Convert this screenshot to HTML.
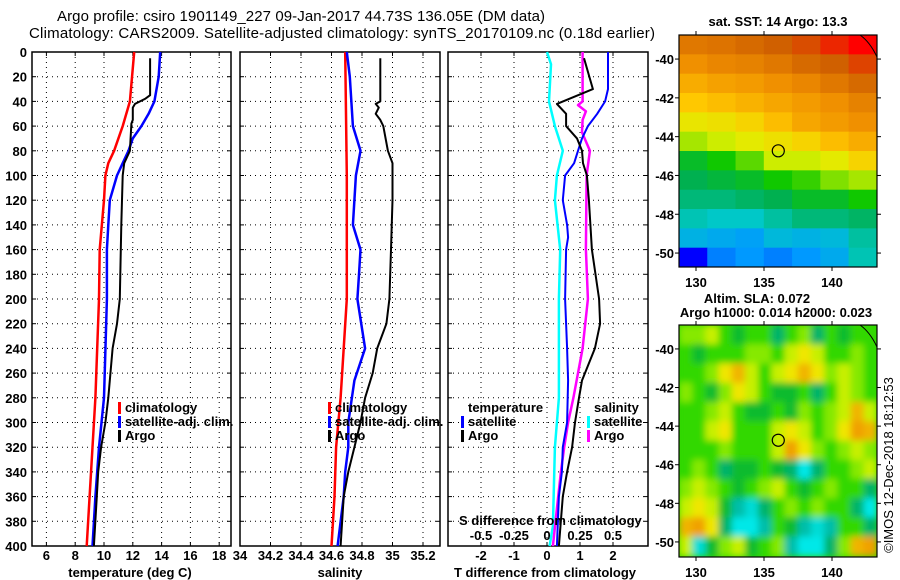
<!DOCTYPE html>
<html><head><meta charset="utf-8"><style>
html,body{margin:0;padding:0;background:#fff;}
svg{display:block;font-family:"Liberation Sans",sans-serif;}
.tk{font-size:13px;font-weight:bold;fill:#000;}
.ttl{font-size:15px;fill:#000;}
</style></head><body>
<svg id="chart" width="900" height="580" viewBox="0 0 900 580">
<defs>
<clipPath id="clipSST"><rect x="679" y="35" width="198" height="232"/></clipPath>
<clipPath id="clipSLA"><rect x="679" y="325" width="198" height="232"/></clipPath>
<filter id="blur" x="-10%" y="-10%" width="120%" height="120%"><feGaussianBlur stdDeviation="3.5"/></filter>
</defs>
<text class="ttl" x="57" y="21" textLength="488">Argo profile: csiro 1901149_227 09-Jan-2017 44.73S 136.05E (DM data)</text>
<text class="ttl" x="29" y="38" textLength="626">Climatology: CARS2009. Satellite-adjusted climatology: synTS_20170109.nc (0.18d earlier)</text>
<g id="root"></g>
</svg>
<script>
// ---- data ----
const tClimDepth=[0,40,60,80,90,100,120,160,200,280,320,360,400];
const tClim=[12.1,11.8,11.3,10.7,10.3,10.1,10.0,9.7,9.65,9.4,9.2,9.0,8.8];
const tSatDepth=[0,20,40,50,60,70,80,90,100,120,140,160,200,280,320,360,400];
const tSat=[13.9,13.8,13.5,13.1,12.6,12.0,11.7,11.3,10.9,10.4,10.3,10.2,10.2,10.0,9.65,9.4,9.2];
const tArgoDepth=[5,35,38,42,45,55,58,80,90,100,140,200,220,240,266,280,300,320,340,360,400];
const tArgo=[13.2,13.2,12.85,12.15,12.0,12.0,11.9,11.8,11.4,11.3,11.2,11.1,10.9,10.6,10.4,10.3,10.1,9.8,9.6,9.5,9.3];
const sClimDepth=[0,100,200,280,320,360,400];
const sClim=[34.69,34.70,34.70,34.66,34.63,34.62,34.60];
const sSatDepth=[0,20,60,80,100,140,160,180,200,240,266,300,320,340,360,400];
const sSat=[34.70,34.72,34.74,34.79,34.76,34.74,34.79,34.78,34.77,34.82,34.75,34.71,34.71,34.69,34.68,34.64];
const sArgoDepth=[5,40,42,45,50,55,60,80,90,120,160,200,220,240,260,280,300,320,340,360,400];
const sArgo=[34.92,34.92,34.89,34.91,34.89,34.92,34.94,34.97,35.0,35.0,34.99,34.98,34.96,34.9,34.87,34.82,34.79,34.75,34.71,34.68,34.66];
const dTSatDepth=[0,30,40,50,60,70,80,90,100,120,140,150,160,200,240,266,300,320,340,360,400];
const dTSat=[1.85,1.85,1.76,1.52,1.24,1.06,0.94,0.82,0.55,0.48,0.61,0.64,0.58,0.55,0.61,0.64,0.61,0.48,0.45,0.36,0.30];
const dTArgoDepth=[5,30,42,50,60,70,80,90,100,120,160,200,220,240,266,280,300,320,340,360,400];
const dTArgo=[1.12,1.39,0.30,0.58,0.58,0.91,1.06,1.09,1.21,1.27,1.36,1.58,1.61,1.45,1.06,0.97,0.85,0.76,0.61,0.48,0.36];
const dSSatDepth=[0,10,40,60,80,100,120,160,200,280,320,384,400];
const dSSat=[0,0.03,0.015,0.06,0.12,0.075,0.06,0.1,0.09,0.09,0.06,0.045,0.02];
const dSArgoDepth=[0,40,43,48,55,65,80,100,160,200,240,260,280,300,320,340,360,400];
const dSArgo=[0.27,0.27,0.235,0.295,0.27,0.265,0.325,0.3,0.295,0.31,0.27,0.235,0.2,0.16,0.13,0.105,0.085,0.045];
const depthTicks=[0,20,40,60,80,100,120,140,160,180,200,220,240,260,280,300,320,340,360,380,400];
const tTicks=[6,8,10,12,14,16,18];
const sTicks=[34,34.2,34.4,34.6,34.8,35,35.2];
const sTickLabels=["34","34.2","34.4","34.6","34.8","35","35.2"];
const dTTicks=[-2,-1,0,1,2];
const dSTicks=[-0.5,-0.25,0,0.25,0.5];
const dSTickLabels=["-0.5","-0.25","0","0.25","0.5"];
const lonTicks=[130,135,140];
const latTicks=[-40,-42,-44,-46,-48,-50];
const sstGrid=[
[15.5,15.6,15.8,16.0,16.2,16.6,17.2],
[15.0,15.2,15.3,15.5,15.8,16.0,16.3],
[14.5,14.7,14.8,15.0,15.2,15.5,15.8],
[14.0,14.2,14.4,14.6,14.8,15.0,15.3],
[13.5,13.6,13.8,14.2,14.6,14.8,15.0],
[13.0,13.2,13.4,13.6,13.8,14.2,14.5],
[12.0,12.2,12.6,13.2,13.2,13.4,13.8],
[11.8,11.9,12.0,12.2,12.4,12.8,13.0],
[11.6,11.6,11.7,11.8,12.0,12.0,12.2],
[11.3,11.2,11.2,11.4,11.6,11.6,11.7],
[10.9,10.8,10.7,11.0,10.9,11.0,11.4],
[10.0,10.5,10.6,10.5,10.6,10.8,11.3]];
const slaGrid=[
[0.05,0.05,0.1,0,-0.05,0,0,-0.1,0,0.05,-0.1,0,-0.05,0,0],
[0,-0.05,0,0,0,0.05,0.05,0,0.1,0.15,0.1,0,0,0.05,0],
[0,0,0.05,0.15,0.2,0.1,0,0.1,0.15,0.2,0.15,0.05,0.1,0.05,0],
[0.05,0,-0.05,0.05,0.15,0.1,0,-0.05,-0.05,0,-0.1,0,0.1,0.05,0],
[0,0,0.05,0.1,0,-0.05,-0.05,0,-0.05,0.05,0,0.05,0.1,0.2,0.1],
[0,0,0.1,0.15,0,0,0,0.1,0.15,0.1,0,0.05,0.15,0.3,0.2],
[0,0,0,0.05,0,0,0,0.1,0.25,0.15,0.05,0,0.05,0.1,0.05],
[0,0.05,0,-0.1,-0.05,-0.05,0,-0.05,-0.1,-0.25,-0.1,0,0,0.05,0.1],
[0.05,0.1,0.05,0,-0.05,0,0.05,0.1,0,-0.05,0,0.05,0,0,-0.1],
[0.1,0.15,0.1,-0.05,-0.15,-0.2,-0.1,0,0.05,0,0.05,0,0,-0.1,-0.25],
[0.2,0.3,0.15,-0.1,-0.25,-0.3,-0.15,0,-0.05,-0.15,-0.2,-0.15,0,0,-0.1],
[0.1,-0.2,-0.05,0.05,0.1,-0.05,0,0.05,-0.15,-0.3,-0.3,-0.1,0.05,0.2,0.25]];
const argoLon=136.05, argoLat=-44.73;

// ---- scales ----
const NS="http://www.w3.org/2000/svg";
const root=document.getElementById('root');
const yD=d=>52+d*1.235;
const xT=t=>32+(t-5)*14.4;
const xS=s=>240+(s-34)*152.5;
const xDT=t=>547+t*33;
const xDS=s=>547+s*132;
const mapX=lon=>679+(lon-128.75)*13.6;
const mapY1=lat=>35+(-38.76-lat)*19.4;
const mapY2=lat=>325+(-38.76-lat)*19.3;
function mk(tag,attrs,parent){const e=document.createElementNS(NS,tag);for(const k in attrs)e.setAttribute(k,attrs[k]);(parent||root).appendChild(e);return e;}
function txt(x,y,s,anchor,cls,parent){const e=mk('text',{x:x,y:y,'text-anchor':anchor||'start','class':cls||'tk'},parent);e.textContent=s;return e;}

function panel(x0,x1,name,xticks,xf){
  const g=mk('g',{});
  
  
  depthTicks.forEach(d=>{if(d>0&&d<400){mk('line',{x1:x0,x2:x1,y1:yD(d),y2:yD(d),stroke:'#000','stroke-width':1,'stroke-dasharray':'1,4'},g);}
    mk('line',{x1:x0,x2:x0+4,y1:yD(d),y2:yD(d),stroke:'#000'},g);mk('line',{x1:x1-4,x2:x1,y1:yD(d),y2:yD(d),stroke:'#000'},g);});
  xticks.forEach(v=>{const x=xf(v);if(x>x0+1&&x<x1-1)mk('line',{x1:x,x2:x,y1:52,y2:546,stroke:'#000','stroke-dasharray':'1,4'},g);
    mk('line',{x1:x,x2:x,y1:52,y2:56,stroke:'#000'},g);mk('line',{x1:x,x2:x,y1:542,y2:546,stroke:'#000'},g);});
  mk('rect',{x:x0,y:52,width:x1-x0,height:494,fill:'none',stroke:'#000','stroke-width':1.5},g);
  return g;
}
function line(g,depths,vals,xf,color,w,name){
  const pts=depths.map((d,i)=>xf(vals[i]).toFixed(1)+','+yD(d).toFixed(1)).join(' ');
  const p=mk('polyline',{points:pts,fill:'none',stroke:color,'stroke-width':w,'stroke-linejoin':'round'},g);
  
  
}
function legend(g,x,y,color,label,name){
  mk('rect',{x:x,y:y-10,width:3,height:12,fill:color},g);
  const t=txt(x+7,y,label,'start','tk',g);
  
  
}

// panel 1
const p1=panel(32,231,'temperature-panel',tTicks,xT);
depthTicks.forEach(d=>{const t=txt(27,yD(d)+5,String(d),'end','tk',p1);});
tTicks.forEach(v=>{const t=txt(xT(v),560,String(v),'middle','tk',p1);});
line(p1,tClimDepth,tClim,xT,'#ff0000',2.5,'temp-climatology-line');
line(p1,tSatDepth,tSat,xT,'#0000ff',2.5,'temp-satellite-line');
line(p1,tArgoDepth,tArgo,xT,'#000',2,'temp-argo-line');
legend(p1,118,412,'#ff0000','climatology','legend-climatology');
legend(p1,118,426,'#0000ff','satellite-adj. clim.','legend-satellite');
legend(p1,118,440,'#000','Argo','legend-argo');
{const t=txt(130,577,'temperature (deg C)','middle','tk',p1);}

// panel 2
const p2=panel(240,440,'salinity-panel',sTicks,xS);
sTicks.forEach((v,i)=>{const t=txt(xS(v),560,sTickLabels[i],'middle','tk',p2);});
line(p2,sClimDepth,sClim,xS,'#ff0000',2.5,'sal-climatology-line');
line(p2,sSatDepth,sSat,xS,'#0000ff',2.5,'sal-satellite-line');
line(p2,sArgoDepth,sArgo,xS,'#000',2,'sal-argo-line');
legend(p2,328,412,'#ff0000','climatology','legend-climatology-sal');
legend(p2,328,426,'#0000ff','satellite-adj. clim.','legend-satellite-sal');
legend(p2,328,440,'#000','Argo','legend-argo-sal');
{const t=txt(340,577,'salinity','middle','tk',p2);}

// panel 3
const p3=panel(448,648,'difference-panel',dTTicks,xDT);
dTTicks.forEach(v=>{const t=txt(xDT(v),560,String(v),'middle','tk',p3);});
dSTicks.forEach((v,i)=>{const t=txt(xDS(v),540,dSTickLabels[i],'middle','tk',p3);});
line(p3,dSSatDepth,dSSat,xDS,'#00ffff',2.5,'s-diff-satellite-line');
line(p3,dSArgoDepth,dSArgo,xDS,'#ff00ff',2.5,'s-diff-argo-line');
line(p3,dTSatDepth,dTSat,xDT,'#0000ff',2,'t-diff-satellite-line');
line(p3,dTArgoDepth,dTArgo,xDT,'#000',2,'t-diff-argo-line');
{const t=txt(468,412,'temperature','start','tk',p3);}
legend(p3,461,426,'#0000ff','satellite','legend-t-satellite');
legend(p3,461,440,'#000','Argo','legend-t-argo');
{const t=txt(594,412,'salinity','start','tk',p3);}
legend(p3,587,426,'#00ffff','satellite','legend-s-satellite');
legend(p3,587,440,'#ff00ff','Argo','legend-s-argo');
{const t=txt(459,525,'S difference from climatology','start','tk',p3);}
{const t=txt(545,577,'T difference from climatology','middle','tk',p3);}

// colormaps
function hex(c){return [parseInt(c.substr(1,2),16),parseInt(c.substr(3,2),16),parseInt(c.substr(5,2),16)];}
function cmap(stops,v){
  if(v<=stops[0][0])return stops[0][1];
  for(let i=1;i<stops.length;i++){if(v<=stops[i][0]){const a=hex(stops[i-1][1]),b=hex(stops[i][1]);const f=(v-stops[i-1][0])/(stops[i][0]-stops[i-1][0]);return 'rgb('+a.map((c,k)=>Math.round(c+(b[k]-c)*f)).join(',')+')';}}
  return stops[stops.length-1][1];
}
const sstStops=[[10,'#0000ff'],[10.6,'#0099ff'],[11.2,'#00c8c8'],[11.8,'#00b050'],[12.2,'#10c800'],[12.8,'#80e000'],[13.3,'#e0f000'],[14,'#ffc800'],[15,'#f09000'],[16,'#d06000'],[17,'#ff0000']];
const slaStops=[[-0.22,'#00e8e8'],[-0.14,'#00b8a0'],[-0.07,'#00b040'],[0,'#30d800'],[0.07,'#a8f000'],[0.14,'#f0f000'],[0.22,'#f0a000']];

// SST map
const m1=mk('g',{'clip-path':'url(#clipSST)'});


const lonSpan=143.3-128.75, latSpan=50.72-38.76;
sstGrid.forEach((row,r)=>row.forEach((v,c)=>{
  const lo=128.75+c*lonSpan/row.length, la=-38.76-r*latSpan/sstGrid.length;
  const x=mapX(lo),y=mapY1(la),w=mapX(lo+lonSpan/row.length)-x+0.5,h=mapY1(la-latSpan/sstGrid.length)-y+0.5;
  const cell=mk('rect',{x:x,y:y,width:w,height:h,fill:cmap(sstStops,v)},m1);
  
  
}));
mk('path',{d:'M860,35 Q870,42 877,57',fill:'none',stroke:'#000','stroke-width':1},m1);
// SLA map
const m2=mk('g',{'clip-path':'url(#clipSLA)'});


mk('rect',{x:679,y:325,width:198,height:232,fill:cmap(slaStops,0)},m2);
const m2b=mk('g',{filter:'url(#blur)'},m2);
slaGrid.forEach((row,r)=>row.forEach((v,c)=>{
  const lo=128.75+c*lonSpan/row.length, la=-38.76-r*latSpan/slaGrid.length;
  const x=mapX(lo),y=mapY2(la),w=mapX(lo+lonSpan/row.length)-x+0.5,h=mapY2(la-latSpan/slaGrid.length)-y+0.5;
  const cell=mk('rect',{x:x,y:y,width:w,height:h,fill:cmap(slaStops,v)},m2b);
  
  
}));
mk('path',{d:'M860,325 Q870,332 877,347',fill:'none',stroke:'#000','stroke-width':1},m2);

[[35,mapY1,'sst'],[325,mapY2,'sla']].forEach(([top,my,nm])=>{
  const g=mk('g',{});
  
  
  mk('rect',{x:679,y:top,width:198,height:232,fill:'none',stroke:'#000','stroke-width':1.2},g);
  lonTicks.forEach(v=>{const x=mapX(v);mk('line',{x1:x,x2:x,y1:top-4,y2:top,stroke:'#000'},g);mk('line',{x1:x,x2:x,y1:top+232,y2:top+236,stroke:'#000'},g);
    const t=txt(x,top+252,String(v),'middle','tk',g);});
  latTicks.forEach(v=>{const y=my(v);mk('line',{x1:675,x2:679,y1:y,y2:y,stroke:'#000'},g);mk('line',{x1:877,x2:881,y1:y,y2:y,stroke:'#000'},g);
    const t=txt(674,y+5,String(v),'end','tk',g);});
  const c=mk('circle',{cx:mapX(argoLon),cy:my(argoLat),r:6,fill:'none',stroke:'#000','stroke-width':1.2},g);
  
  
});
{const t=txt(778,26,'sat. SST: 14 Argo: 13.3','middle','tk');}
{const t=txt(757,303,'Altim. SLA: 0.072','middle','tk');}
{const t=txt(776,317,'Argo h1000: 0.014 h2000: 0.023','middle','tk');}
{const t=mk('text',{x:0,y:0,'text-anchor':'middle',transform:'translate(893,465) rotate(-90)',style:'font-size:13px;fill:#000'});t.textContent='©IMOS 12-Dec-2018 18:12:53';}
</script>
</body></html>
